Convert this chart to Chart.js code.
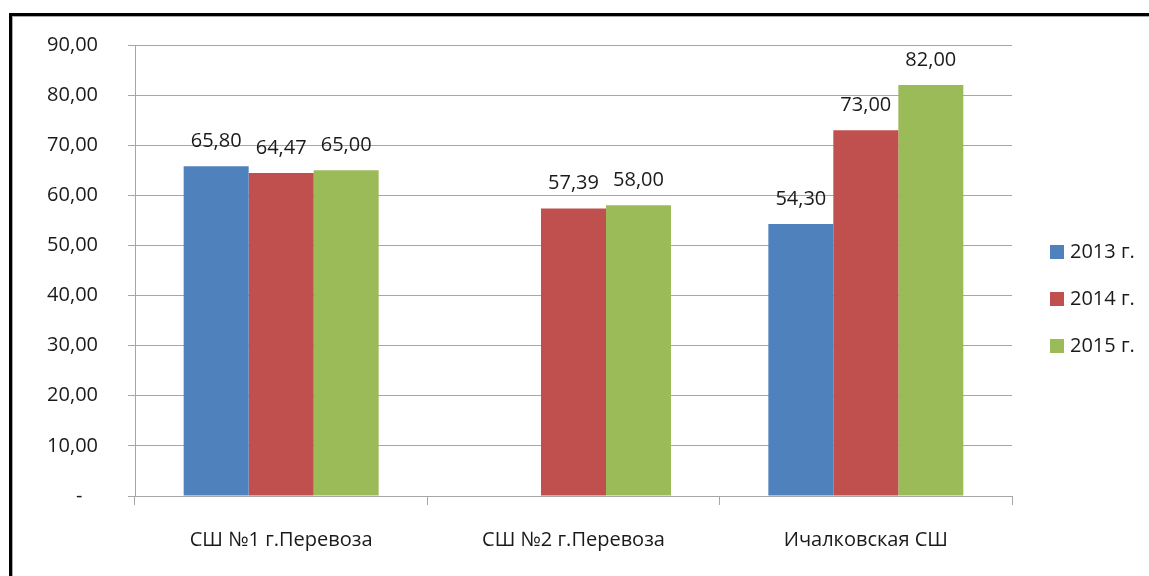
<!DOCTYPE html>
<html>
<head>
<meta charset="utf-8">
<script src="https://cdn.jsdelivr.net/npm/chart.js@4/dist/chart.umd.min.js"></script>
<style>
  html, body { margin: 0; padding: 0; background: #fff; overflow: hidden; }
  #wrap { position: relative; width: 1149px; height: 576px; }
  #frame {
    position: absolute; left: 9px; top: 13px; width: 1200px; height: 620px;
    border-top: 3px solid #000; border-left: 3px solid #000;
    box-shadow: inset 1px 1px 0 #aaa;
    pointer-events: none;
  }
</style>
</head>
<body>
<div id="wrap">
  <canvas id="chart" width="1149" height="576"></canvas>
  <div id="frame"></div>
</div>
<script>
const FONT = `'Open Sans', sans-serif`
const GRID = `#a6a6a6`

const categories = [`СШ №1 г.Перевоза`, `СШ №2 г.Перевоза`, `Ичалковская СШ`]
const seriesNames = [`2013 г.`, `2014 г.`, `2015 г.`]
const values2013 = [65.80, null, 54.30]
const values2014 = [64.47, 57.39, 73.00]
const values2015 = [65.00, 58.00, 82.00]
const seriesColors = [`#4F81BD`, `#C0504D`, `#9BBB59`]

const fmt = v => v.toFixed(2).replace(`.`, `,`)

// value labels over the bars
const valueLabels = {
  id: `valueLabels`,
  afterDatasetsDraw(chart) {
    const { ctx } = chart
    ctx.save()
    ctx.font = `20px ${FONT}`
    ctx.fillStyle = `#1a1a1a`
    ctx.textAlign = `center`
    ctx.textBaseline = `alphabetic`
    chart.data.datasets.forEach((ds, i) => {
      chart.getDatasetMeta(i).data.forEach((bar, j) => {
        const v = ds.data[j]
        if (v == null) return
        ctx.fillText(fmt(v), bar.x, bar.y - 19)
      })
    })
    ctx.restore()
  }
}

// legend on the right, drawn from the datasets
const sideLegend = {
  id: `sideLegend`,
  afterDraw(chart) {
    const { ctx, chartArea } = chart
    const x = chartArea.right + 38
    const y0 = chartArea.top + 207
    ctx.save()
    ctx.font = `20px ${FONT}`
    ctx.textBaseline = `middle`
    ctx.textAlign = `left`
    chart.data.datasets.forEach((ds, i) => {
      const y = y0 + i * 47
      ctx.fillStyle = ds.backgroundColor
      ctx.fillRect(x, y - 7, 14, 14)
      ctx.fillStyle = `#1a1a1a`
      ctx.fillText(ds.label, x + 20, y)
    })
    ctx.restore()
  }
}

new Chart(document.getElementById(`chart`).getContext(`2d`), {
  type: `bar`,
  data: {
    labels: categories,
    datasets: [values2013, values2014, values2015].map((data, i) => ({
      label: seriesNames[i],
      data,
      backgroundColor: seriesColors[i],
      barPercentage: 1,
      categoryPercentage: 0.667
    }))
  },
  options: {
    responsive: false,
    animation: false,
    layout: { padding: { top: 45, right: 137, bottom: 0, left: 0 } },
    plugins: {
      legend: { display: false },
      tooltip: { enabled: false }
    },
    scales: {
      x: {
        afterFit: scale => { scale.height = 80 },
        border: { color: GRID },
        grid: { drawOnChartArea: false, color: GRID, tickLength: 9 },
        ticks: { color: `#1a1a1a`, font: { family: FONT, size: 20 }, padding: 23 }
      },
      y: {
        min: 0,
        max: 90,
        afterFit: scale => { scale.width = 135 },
        border: { color: GRID },
        grid: { color: GRID, tickLength: 7 },
        ticks: {
          stepSize: 10,
          color: `#1a1a1a`,
          font: { family: FONT, size: 20 },
          padding: 30,
          callback: v => v === 0 ? `-   ` : fmt(v)
        }
      }
    }
  },
  plugins: [valueLabels, sideLegend]
})
</script>
</body>
</html>
